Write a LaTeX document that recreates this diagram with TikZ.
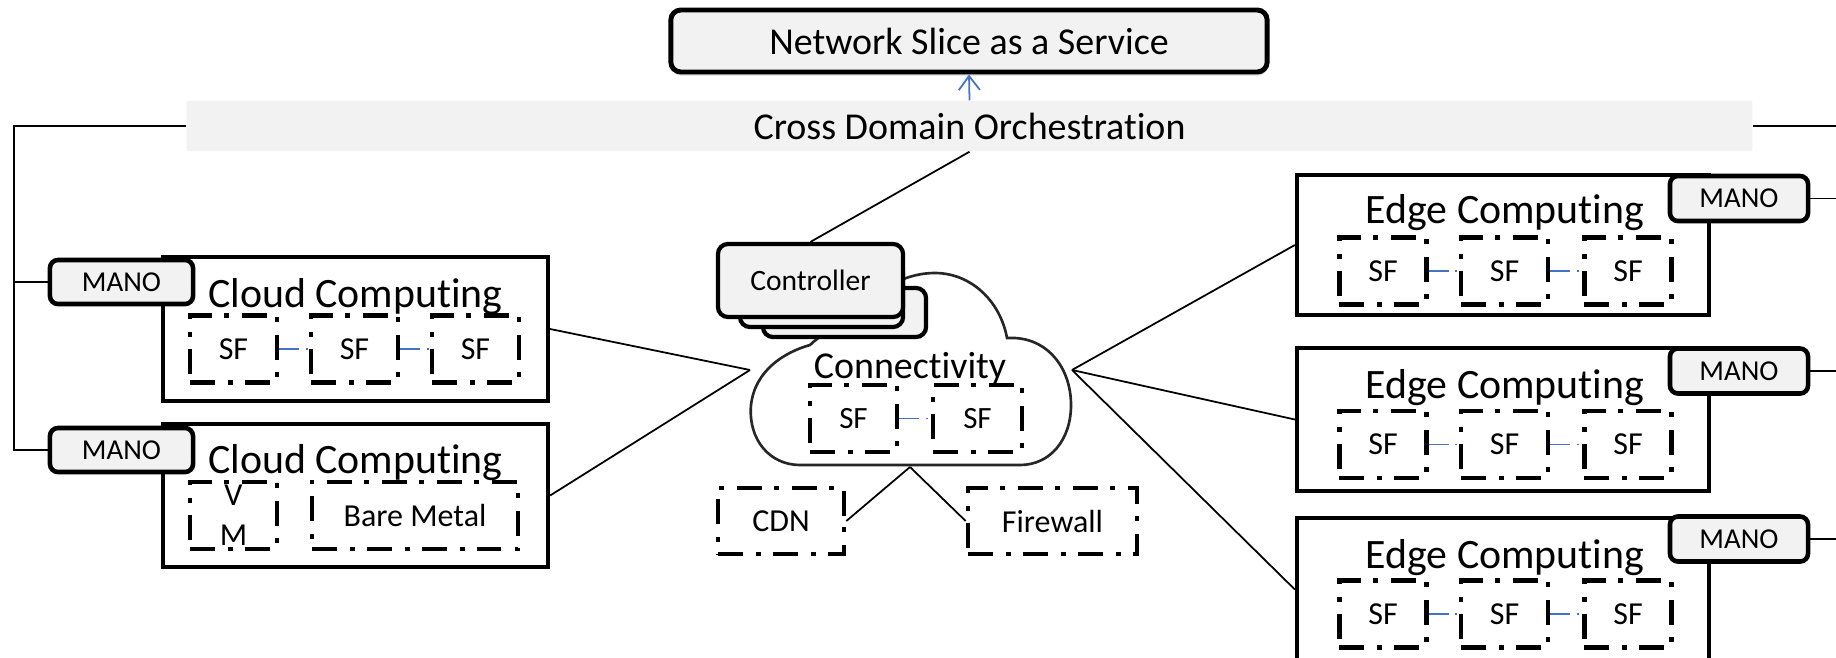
\documentclass[tikz,border=0pt]{standalone}
\usepackage{fontspec}
\setmainfont{Carlito}[Ligatures=NoCommon]
\usetikzlibrary{arrows.meta, positioning, calc, shadows}

\definecolor{panelgray}{HTML}{F2F2F2}
\definecolor{linkblue}{HTML}{4472C4}

\begin{document}
\begin{tikzpicture}[
    x=0.01cm, y=-0.01cm,
    >=Stealth,
    domainbox/.style={draw, line width=1.15pt, minimum width=3.85cm, minimum height=1.43cm, inner sep=0pt},
    headline/.style={inner sep=0pt, font=\fontsize{11.9}{14}\selectfont},
    mano/.style={draw, fill=panelgray, line width=1.3pt, rounded corners=0.08cm, minimum width=1.4cm, minimum height=0.45cm, inner sep=0pt, font=\fontsize{8.2}{9}\selectfont},
    sfbox/.style={draw, line width=1.3pt, dash pattern=on 7.1pt off 3.7pt on 1.4pt off 3.4pt, minimum width=0.87cm, minimum height=0.67cm, inner sep=0pt, font=\fontsize{9.1}{11.4}\selectfont},
    sflink/.style={draw=linkblue, line width=0.45pt, dash pattern=on 5.7pt off 1.8pt on 0.6pt off 2pt},
    link/.style={draw, line width=0.5pt},
    ctrlbox/.style={draw, fill=panelgray, line width=1.2pt, rounded corners=0.1cm, inner sep=0pt, font=\fontsize{8.4}{11}\selectfont}
  ]
  \clip (0,0) rectangle (1836,657);

  % top
  \node[draw, fill=panelgray, line width=1.4pt, rounded corners=0.1cm, minimum width=5.96cm, minimum height=0.62cm,
        font=\fontsize{10.8}{13}\selectfont, drop shadow={shadow xshift=0.2pt, shadow yshift=-1pt, opacity=0.3}] (nsaas) at (969,41) {Network Slice as a Service};
  \node[fill=panelgray, rounded corners=0.02cm, minimum width=15.65cm, minimum height=0.48cm,
        font=\fontsize{10.8}{13}\selectfont] (bar) at (969.5,126) {Cross Domain Orchestration};
  \draw[linkblue, line width=0.5pt, -{Straight Barb[length=4pt, width=6pt]}] (bar.north) -- (nsaas.south);

  % cloud computing
  \node[domainbox, minimum height=1.44cm] (cc1) at (355.5,329) {};
  \node[headline] (cc1t) at (355.5,297) {Cloud Computing};
  \node[sfbox] (sfc1a) at (233.5,349) {SF};
  \node[sfbox] (sfc1b) at (354.5,349) {SF};
  \node[sfbox] (sfc1c) at (475.5,349) {SF};
  \draw[sflink] (sfc1a.east) -- (sfc1b.west);
  \draw[sflink] (sfc1b.east) -- (sfc1c.west);
  \node[mano, minimum width=1.43cm, minimum height=0.44cm] (manoL1) at (121.5,282) {MANO};

  \node[domainbox] (cc2) at (355.5,495.5) {};
  \node[headline] (cc2t) at (355.5,463) {Cloud Computing};
  \node[sfbox, align=center] (vm) at (233.5,515.5) {V\\M};
  \node[sfbox, minimum width=2.06cm] (bare) at (415,515.5) {Bare Metal};
  \node[mano, minimum width=1.43cm, minimum height=0.44cm] (manoL2) at (121.5,450) {MANO};

  \coordinate (lbus) at (14,0);
  \draw[link] (bar.west) -| (lbus |- manoL2.west) -- (manoL2.west);
  \draw[link] (manoL1.west) -- (manoL1.west -| lbus);

  % edge computing
  \node[domainbox, minimum width=4.12cm, minimum height=1.40cm] (ec1) at (1503,245) {};
  \node[headline] (ec1t) at (1505,213) {Edge Computing};
  \node[sfbox] (sfe1a) at (1383,271) {SF};
  \node[sfbox] (sfe1b) at (1504.5,271) {SF};
  \node[sfbox] (sfe1c) at (1628,271) {SF};
  \draw[sflink] (sfe1a.east) -- (sfe1b.west);
  \draw[sflink] (sfe1b.east) -- (sfe1c.west);
  \node[mano, minimum width=1.38cm] (manoR1) at (1739,198.5) {MANO};

  \node[domainbox, minimum width=4.12cm] (ec2) at (1503,419.5) {};
  \node[headline] (ec2t) at (1505,388) {Edge Computing};
  \node[sfbox] (sfe2a) at (1383,444.5) {SF};
  \node[sfbox] (sfe2b) at (1504.5,444.5) {SF};
  \node[sfbox] (sfe2c) at (1628,444.5) {SF};
  \draw[sflink] (sfe2a.east) -- (sfe2b.west);
  \draw[sflink] (sfe2b.east) -- (sfe2c.west);
  \node[mano, minimum width=1.38cm] (manoR2) at (1739,371) {MANO};

  \node[domainbox, minimum width=4.12cm] (ec3) at (1503,589.5) {};
  \node[headline] (ec3t) at (1505,558) {Edge Computing};
  \node[sfbox] (sfe3a) at (1383,614) {SF};
  \node[sfbox] (sfe3b) at (1504.5,614) {SF};
  \node[sfbox] (sfe3c) at (1628,614) {SF};
  \draw[sflink] (sfe3a.east) -- (sfe3b.west);
  \draw[sflink] (sfe3b.east) -- (sfe3c.west);
  \node[mano, minimum width=1.38cm] (manoR3) at (1739,539) {MANO};

  \coordinate (rbus) at (1840,0);
  \draw[link] (bar.east) -- (bar.east -| rbus);
  \draw[link] (manoR1.east) -- (manoR1.east -| rbus);
  \draw[link] (manoR2.east) -- (manoR2.east -| rbus);
  \draw[link] (manoR3.east) -- (manoR3.east -| rbus);

  % connectivity cloud
  \draw[line width=0.75pt, draw=black!85, fill=white]
    (810,345) .. controls (785,352) and (755,370) .. (751,405)
    .. controls (748,440) and (770,465) .. (800,465) -- (1020,465)
    .. controls (1050,465) and (1071,440) .. (1071,405)
    .. controls (1071,370) and (1050,340) .. (1015,338) -- (1007,338)
    .. controls (1000,300) and (970,273) .. (935,273)
    .. controls (900,273) and (870,295) .. (850,320)
    .. controls (835,328) and (820,335) .. (810,345) -- cycle;
  \coordinate (cloudW) at (750,370);
  \coordinate (cloudE) at (1072,370);
  \coordinate (cloudS) at (910,467);
  \node[headline, font=\fontsize{10.8}{13}\selectfont] (connt) at (910,368) {Connectivity};
  \node[sfbox, font=\fontsize{8.8}{11}\selectfont] (sfna) at (853.5,418.5) {SF};
  \node[sfbox, minimum width=0.89cm, font=\fontsize{8.8}{11}\selectfont] (sfnb) at (977.5,418.5) {SF};
  \draw[sflink] (sfna.east) -- (sfnb.west);

  \node[ctrlbox, minimum width=1.63cm, minimum height=0.49cm] (ctrl3) at (844.5,312.5) {};
  \node[ctrlbox, minimum width=1.63cm, minimum height=0.65cm] (ctrl2) at (821.5,294.5) {};
  \node[ctrlbox, minimum width=1.85cm, minimum height=0.73cm] (ctrl) at (810.5,280.5) {Controller};
  \draw[link] (bar.south) -- (ctrl.north);

  \node[sfbox, minimum width=1.26cm, minimum height=0.66cm] (cdn) at (781,521) {CDN};
  \node[sfbox, minimum width=1.69cm, minimum height=0.66cm] (fw) at (1052.5,521) {Firewall};

  % links to the cloud
  \draw[link] (cc1.east) -- (cloudW);
  \draw[link] (cc2.east) -- (cloudW);
  \draw[link] (cloudE) -- (ec1.west);
  \draw[link] (cloudE) -- (ec2.west);
  \draw[link] (cloudE) -- (ec3.west);
  \draw[link] (cloudS) -- (cdn.east);
  \draw[link] (cloudS) -- (fw.west);
\end{tikzpicture}
\end{document}
